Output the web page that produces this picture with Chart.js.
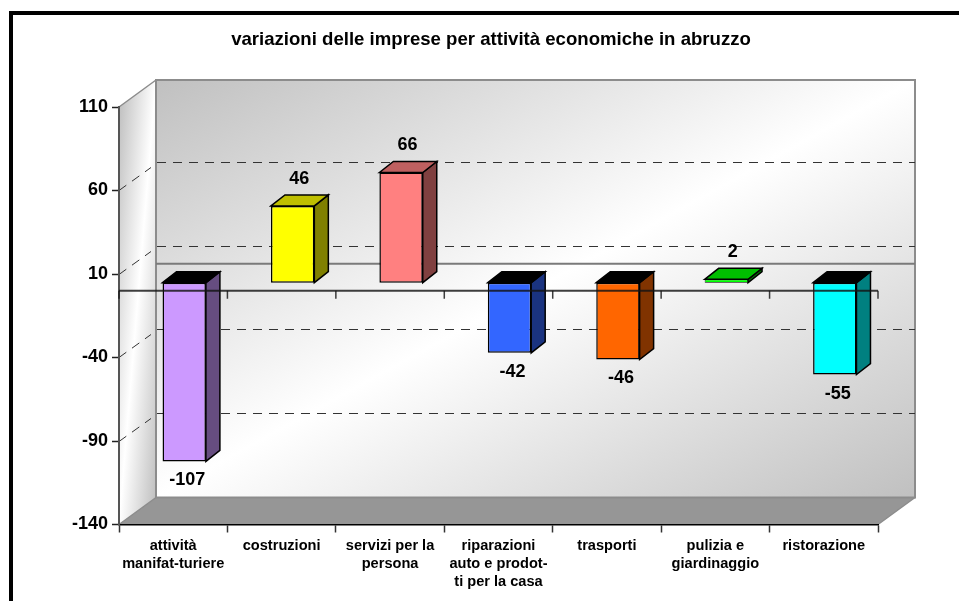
<!DOCTYPE html>
<html>
<head>
<meta charset="utf-8">
<title>variazioni delle imprese</title>
<script src="https://cdn.jsdelivr.net/npm/chart.js@4"></script>
<style>
  html, body { margin: 0; padding: 0; background: #fff; overflow: hidden; }
  canvas { display: block; }
</style>
</head>
<body>
<canvas id="chart_div" width="959" height="601"></canvas>
<script>
const titolo = 'variazioni delle imprese per attività economiche in abruzzo';
const categorie = [
  ['attività', 'manifat-turiere'],
  ['costruzioni'],
  ['servizi per la', 'persona'],
  ['riparazioni', 'auto e prodot-', 'ti per la casa'],
  ['trasporti'],
  ['pulizia e', 'giardinaggio'],
  ['ristorazione']
];
const valori = [-107, 46, 66, -42, -46, 2, -55];
const tickAsseY = [-140, -90, -40, 10, 60, 110];
const coloriBarre = ['#CC99FF', '#FFFF00', '#FF8080', '#3366FF', '#FF6600', '#00FF00', '#00FFFF'];

// offset of the fake 3D box
const FONT = '"Liberation Sans", Arial, sans-serif';
const WALL = { x: 37, y: -27 };
const SHIFT = { x: 11, y: -8 };
const DEPTH = { x: 14, y: -11 };

function shade(hex, k) {
  const n = parseInt(hex.slice(1), 16);
  const c = [n >> 16, (n >> 8) & 255, n & 255].map(v => Math.round(v * k));
  return `rgb(${c[0]},${c[1]},${c[2]})`;
}

function poly(ctx, pts, fill, stroke, lw) {
  ctx.beginPath();
  pts.forEach((p, i) => i ? ctx.lineTo(p[0], p[1]) : ctx.moveTo(p[0], p[1]));
  ctx.closePath();
  if (fill) { ctx.fillStyle = fill; ctx.fill(); }
  if (stroke) { ctx.strokeStyle = stroke; ctx.lineWidth = lw; ctx.stroke(); }
}

// grey in the top left and bottom right corners, white across the other diagonal
function diagGradient(ctx, x, y, w, h, grey) {
  const len = Math.hypot(w, h);
  const nx = h / len, ny = w / len;
  const half = (w / 2) * nx + (h / 2) * ny;
  const cx = x + w / 2, cy = y + h / 2;
  const g = ctx.createLinearGradient(cx - nx * half, cy - ny * half, cx + nx * half, cy + ny * half);
  g.addColorStop(0, grey);
  g.addColorStop(0.5, '#ffffff');
  g.addColorStop(1, grey);
  return g;
}

const box3d = {
  id: 'box3d',
  beforeDraw(chart) {
    const { ctx, chartArea: a, scales } = chart;
    const L = a.left, R = a.right, T = a.top, B = a.bottom;
    const y = scales.y;

    // page frame, only top and left
    ctx.save();
    ctx.strokeStyle = '#000';
    ctx.lineWidth = 4;
    ctx.beginPath();
    ctx.moveTo(11, 601);
    ctx.lineTo(11, 13);
    ctx.lineTo(959, 13);
    ctx.stroke();

    // back wall
    const bl = L + WALL.x, br = R + WALL.x, bt = T + WALL.y, bb = B + WALL.y;
    const w = br - bl, h = bb - bt;
    ctx.fillStyle = diagGradient(ctx, bl, bt, w, h, '#c0c0c0');
    ctx.fillRect(bl, bt, w, h);

    // left wall
    poly(ctx, [[L, T], [bl, bt], [bl, bb], [L, B]], diagGradient(ctx, L, bt, WALL.x, B - bt, '#bcbcbc'));

    // floor
    poly(ctx, [[L, B], [R, B], [br, bb], [bl, bb]], '#969696');

    // wall edges
    ctx.strokeStyle = '#8c8c8c';
    ctx.lineWidth = 2;
    ctx.strokeRect(bl, bt, w, h);
    ctx.lineWidth = 1.5;
    ctx.beginPath();
    ctx.moveTo(L, T); ctx.lineTo(bl, bt);
    ctx.moveTo(L, B); ctx.lineTo(bl, bb);
    ctx.moveTo(R, B); ctx.lineTo(br, bb);
    ctx.stroke();

    // dashed grid, side wall and back wall are separate runs
    ctx.strokeStyle = '#333';
    ctx.lineWidth = 1;
    ctx.setLineDash([9, 7]);
    tickAsseY.forEach(v => {
      if (v === y.min || v === y.max) return;
      const py = Math.floor(y.getPixelForValue(v)) - 0.5;
      ctx.beginPath();
      ctx.moveTo(L, py + 1);
      ctx.lineTo(bl - 5, py + WALL.y + 5);
      ctx.stroke();
      ctx.beginPath();
      ctx.moveTo(bl + 1, py + WALL.y);
      ctx.lineTo(br, py + WALL.y);
      ctx.stroke();
    });
    ctx.setLineDash([]);

    // zero on the back wall
    const back0 = y.getPixelForValue(0) + WALL.y;
    ctx.strokeStyle = '#7a7a7a';
    ctx.lineWidth = 2;
    ctx.beginPath();
    ctx.moveTo(bl, back0);
    ctx.lineTo(br, back0);
    ctx.stroke();

    ctx.fillStyle = '#000';
    ctx.font = 'bold 18.6px ' + FONT;
    ctx.textAlign = 'center';
    ctx.textBaseline = 'middle';
    ctx.fillText(titolo, 491, 40);
    ctx.restore();
  },
  beforeDatasetsDraw(chart) {
    const { ctx } = chart;
    ctx.save();
    ctx.translate(SHIFT.x, SHIFT.y);
    chart.getDatasetMeta(0).data.forEach((bar, i) => {
      const p = bar.getProps(['x', 'y', 'base', 'width'], true);
      const x0 = p.x - p.width / 2, x1 = p.x + p.width / 2;
      const top = Math.min(p.y, p.base), bot = Math.max(p.y, p.base);
      const col = coloriBarre[i];
      poly(ctx, [[x1, top], [x1 + DEPTH.x, top + DEPTH.y], [x1 + DEPTH.x, bot + DEPTH.y], [x1, bot]], shade(col, 0.5), '#000', 1.5);
      poly(ctx, [[x0, top], [x0 + DEPTH.x, top + DEPTH.y], [x1 + DEPTH.x, top + DEPTH.y], [x1, top]],
        valori[i] < 0 ? '#000' : shade(col, 0.75), '#000', 1.5);
    });
  },
  afterDatasetsDraw(chart) {
    const { ctx, chartArea: a, scales } = chart;
    ctx.restore();
    ctx.save();

    // zero axis goes over the bars
    const y0 = scales.y.getPixelForValue(0);
    const step = (a.right - a.left) / valori.length;
    ctx.strokeStyle = 'rgba(20,20,20,0.82)';
    ctx.lineWidth = 2;
    ctx.beginPath();
    ctx.moveTo(a.left, y0);
    ctx.lineTo(a.right, y0);
    ctx.stroke();
    ctx.lineWidth = 1.5;
    ctx.beginPath();
    for (let i = 0; i <= valori.length; i++) {
      ctx.moveTo(a.left + i * step, y0);
      ctx.lineTo(a.left + i * step, y0 + 8);
    }
    ctx.stroke();

    // value labels
    ctx.fillStyle = '#000';
    ctx.font = 'bold 18px ' + FONT;
    ctx.textAlign = 'center';
    ctx.textBaseline = 'middle';
    chart.getDatasetMeta(0).data.forEach((bar, i) => {
      const p = bar.getProps(['x', 'y'], true);
      const neg = valori[i] < 0;
      ctx.fillText(String(valori[i]), p.x + SHIFT.x + (neg ? 3 : 6.5), p.y + SHIFT.y + (neg ? 19 : -27));
    });
    ctx.restore();
  }
};

new Chart(document.getElementById('chart_div').getContext('2d'), {
  type: 'bar',
  data: {
    labels: categorie,
    datasets: [{
      data: valori,
      backgroundColor: coloriBarre,
      borderColor: '#000',
      // very short bars keep some colour inside the outline
      borderWidth: c => Math.abs(c.raw) < 5 ? 0.8 : 1.5,
      borderSkipped: false,
      barPercentage: 0.4,
      categoryPercentage: 1,
      clip: false
    }]
  },
  options: {
    responsive: false,
    animation: false,
    layout: { padding: { top: 107, right: 81, left: 0, bottom: 0 } },
    plugins: { legend: { display: false }, title: { display: false }, tooltip: { enabled: false } },
    scales: {
      x: {
        afterFit(axis) { axis.height = 76.5; },
        border: { color: '#000', width: 1.5 },
        grid: { drawOnChartArea: false, tickLength: 8, tickColor: '#333', tickWidth: 1.5 },
        ticks: {
          color: '#000',
          autoSkip: false,
          maxRotation: 0,
          padding: 4,
          font: { family: FONT, weight: 'bold', size: 14.6, lineHeight: 1.233 }
        }
      },
      y: {
        min: -140,
        max: 110,
        afterBuildTicks(axis) { axis.ticks = tickAsseY.map(v => ({ value: v })); },
        afterFit(axis) { axis.width = 119; },
        border: { color: '#555', width: 2 },
        grid: { drawOnChartArea: false, tickLength: 7, tickColor: '#222', tickWidth: 1.5 },
        ticks: {
          color: '#000',
          padding: 4,
          font: { family: FONT, weight: 'bold', size: 18 }
        }
      }
    }
  },
  plugins: [box3d]
});
</script>
</body>
</html>
